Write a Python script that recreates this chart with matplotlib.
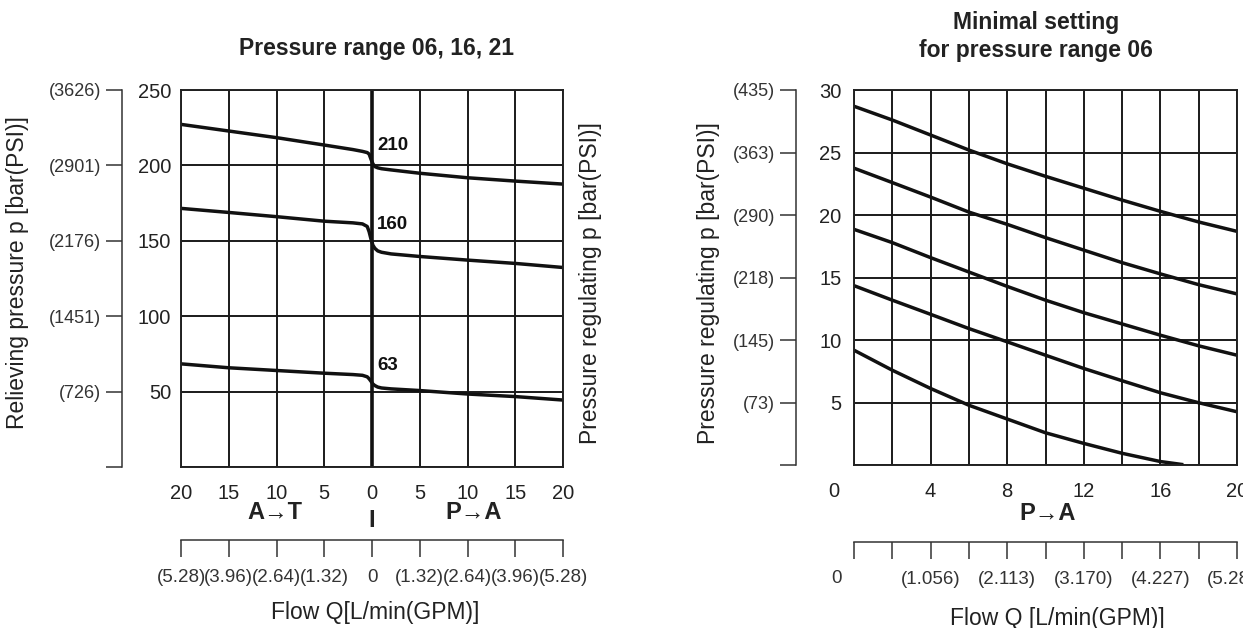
import matplotlib
matplotlib.use('Agg')
import matplotlib.pyplot as plt

plt.rcParams['font.family'] = ['Liberation Sans', 'DejaVu Sans']

# --- left chart: pressure range 06, 16, 21 (A->T negative, P->A positive) ---
flow_left = [-20, -15, -10, -5, -2, -1, -0.5, -0.3, -0.1, 0.1, 0.3, 0.6, 1, 2, 5, 10, 15, 20]
p_210 = [227.2, 222.8, 218.4, 213.5, 210.5, 209.3, 208.5, 207.5, 204.0, 201.0, 199.2, 198.4,
         197.8, 197.0, 194.8, 191.8, 189.6, 187.6]
p_160 = [171.5, 168.8, 166.0, 163.0, 161.9, 161.2, 159.5, 156.0, 151.0, 147.0, 145.0, 143.3,
         142.4, 141.3, 139.6, 137.2, 135.0, 132.3]
p_63 = [68.4, 65.8, 64.0, 62.2, 61.3, 60.8, 59.8, 58.5, 56.8, 55.0, 54.0, 53.0,
        52.4, 51.8, 50.7, 48.4, 46.7, 44.4]
curve_names = ['210', '160', '63']
curve_label_y = [213.5, 160.5, 67]

y_ticks_left = [0, 50, 100, 150, 200, 250]
y_labels_left = ['', '50', '100', '150', '200', '250']
psi_left = ['', '(726)', '(1451)', '(2176)', '(2901)', '(3626)']
x_ticks_left = [-20, -15, -10, -5, 0, 5, 10, 15, 20]
x_labels_left = ['20', '15', '10', '5', '0', '5', '10', '15', '20']
gpm_left = ['(5.28)', '(3.96)', '(2.64)', '(1.32)', '0', '(1.32)', '(2.64)', '(3.96)', '(5.28)']

# --- right chart: minimal setting for pressure range 06 ---
flow_right = [0, 2, 4, 6, 8, 10, 12, 14, 16, 18, 20]
min_1 = [28.7, 27.6, 26.4, 25.2, 24.1, 23.1, 22.15, 21.2, 20.3, 19.45, 18.7]
min_2 = [23.75, 22.6, 21.44, 20.24, 19.26, 18.2, 17.2, 16.2, 15.3, 14.44, 13.7]
min_3 = [18.86, 17.8, 16.6, 15.45, 14.3, 13.2, 12.2, 11.3, 10.4, 9.55, 8.8]
min_4 = [14.36, 13.2, 12.07, 10.93, 9.87, 8.8, 7.74, 6.76, 5.8, 5.0, 4.28]
flow_right_5 = [0, 2, 4, 6, 8, 10, 12, 14, 16, 17.2]
min_5 = [9.2, 7.6, 6.14, 4.8, 3.7, 2.6, 1.75, 0.96, 0.3, 0.05]

y_ticks_right = [0, 5, 10, 15, 20, 25, 30]
y_labels_right = ['', '5', '10', '15', '20', '25', '30']
psi_right = ['', '(73)', '(145)', '(218)', '(290)', '(363)', '(435)']
x_ticks_right = [0, 2, 4, 6, 8, 10, 12, 14, 16, 18, 20]
x_labels_right = ['', '', '4', '', '8', '', '12', '', '16', '', '20']
gpm_labels_right = ['', '', '(1.056)', '', '(2.113)', '', '(3.170)', '', '(4.227)', '', '(5.284)']

W, H = 1243, 628
fig = plt.figure(figsize=(W / 100, H / 100), dpi=100)
axL = fig.add_axes([181 / W, (H - 467) / H, 382 / W, 377 / H])
axR = fig.add_axes([854 / W, (H - 465.3) / H, 383 / W, 375.3 / H])

grid_kw = dict(color='#1a1a1a', lw=1.4)
curve_kw = dict(color='#111111', lw=2.5, solid_capstyle='butt')

for ax in (axL, axR):
    for s in ax.spines.values():
        s.set_linewidth(1.4)
        s.set_color('#222222')
    ax.tick_params(length=0, labelsize=14.5, colors='#222222')
    ax.grid(True, **grid_kw)

# left chart
axL.set_xlim(-20, 20)
axL.set_ylim(0, 250)
axL.set_xticks(x_ticks_left, labels=x_labels_left)
axL.set_yticks(y_ticks_left, labels=y_labels_left)
axL.tick_params(axis='x', pad=12)
axL.tick_params(axis='y', pad=7)
axL.axvline(0, color='#111111', lw=2.6)
for vals in (p_210, p_160, p_63):
    axL.plot(flow_left, vals, **curve_kw)
for name, yl in zip(curve_names, curve_label_y):
    axL.text(0.55, yl, name, fontsize=13.5, fontweight='bold', ha='left', va='center', color='#111111')

secL = axL.secondary_yaxis(-0.1545)
secL.set_yticks(y_ticks_left, labels=psi_left)
secL.spines['left'].set_linewidth(1.1)
secL.spines['left'].set_color('#333333')
secL.tick_params(length=11.5, width=1.1, pad=3.6, labelsize=13, colors='#333333')

secLx = axL.secondary_xaxis(-0.1936)
secLx.set_xticks(x_ticks_left, labels=gpm_left)
secLx.spines['bottom'].set_linewidth(1.1)
secLx.spines['bottom'].set_color('#333333')
secLx.tick_params(length=12, width=1.1, pad=9, labelsize=13.5, colors='#333333')

axL.text(0.513, 1.111, 'Pressure range 06, 16, 21', transform=axL.transAxes,
         ha='center', va='center', fontsize=16.5, fontweight='bold', color='#222222')
axL.text(-10.2, -0.122, 'A→T', transform=axL.get_xaxis_transform(), ha='center', va='center',
         fontsize=17, fontweight='bold', color='#222222')
axL.text(10.6, -0.122, 'P→A', transform=axL.get_xaxis_transform(), ha='center', va='center',
         fontsize=17, fontweight='bold', color='#222222')
axL.text(0, -0.141, 'I', transform=axL.get_xaxis_transform(), ha='center', va='center',
         fontsize=17, fontweight='bold', color='#222222')
axL.text(0.508, -0.387, 'Flow Q[L/min(GPM)]', transform=axL.transAxes, ha='center', va='center',
         fontsize=16.5, color='#222222')
axL.text(-0.427, 0.515, 'Relieving pressure p [bar(PSI)]', transform=axL.transAxes, rotation=90,
         ha='center', va='center', fontsize=16.5, color='#222222')
axL.text(1.073, 0.488, 'Pressure regulating p [bar(PSI)]', transform=axL.transAxes, rotation=90,
         ha='center', va='center', fontsize=16.5, color='#222222')

# right chart
axR.set_xlim(0, 20)
axR.set_ylim(0, 30)
axR.set_xticks(x_ticks_right, labels=x_labels_right)
axR.set_yticks(y_ticks_right, labels=y_labels_right)
axR.tick_params(axis='x', pad=12)
axR.tick_params(axis='y', pad=9)
for vals in (min_1, min_2, min_3, min_4):
    axR.plot(flow_right, vals, **curve_kw)
axR.plot(flow_right_5, min_5, **curve_kw)

secR = axR.secondary_yaxis(-0.1514)
secR.set_yticks(y_ticks_right, labels=psi_right)
secR.spines['left'].set_linewidth(1.1)
secR.spines['left'].set_color('#333333')
secR.tick_params(length=11.5, width=1.1, pad=3.6, labelsize=13, colors='#333333')

secRx = axR.secondary_xaxis(-0.2045)
secRx.set_xticks(x_ticks_right, labels=gpm_labels_right)
secRx.spines['bottom'].set_linewidth(1.1)
secRx.spines['bottom'].set_color('#333333')
secRx.tick_params(length=12, width=1.1, pad=9, labelsize=13.5, colors='#333333')

xt = axR.get_xaxis_transform()
axR.text(-1.04, -0.0685, '0', transform=xt, ha='center', va='center', fontsize=14.5, color='#222222')
axR.text(-0.89, -0.301, '0', transform=xt, ha='center', va='center', fontsize=13.5, color='#333333')
axR.text(0.475, 1.143, 'Minimal setting\nfor pressure range 06', transform=axR.transAxes,
         ha='center', va='center', fontsize=16.5, fontweight='bold', linespacing=1.3, color='#222222')
axR.text(10.1, -0.128, 'P→A', transform=xt, ha='center', va='center',
         fontsize=17, fontweight='bold', color='#222222')
axR.text(0.53, -0.407, 'Flow Q [L/min(GPM)]', transform=axR.transAxes, ha='center', va='center',
         fontsize=16.5, color='#222222')
axR.text(-0.379, 0.486, 'Pressure regulating p [bar(PSI)]', transform=axR.transAxes, rotation=90,
         ha='center', va='center', fontsize=16.5, color='#222222')

fig.savefig('out.png', dpi=100)
